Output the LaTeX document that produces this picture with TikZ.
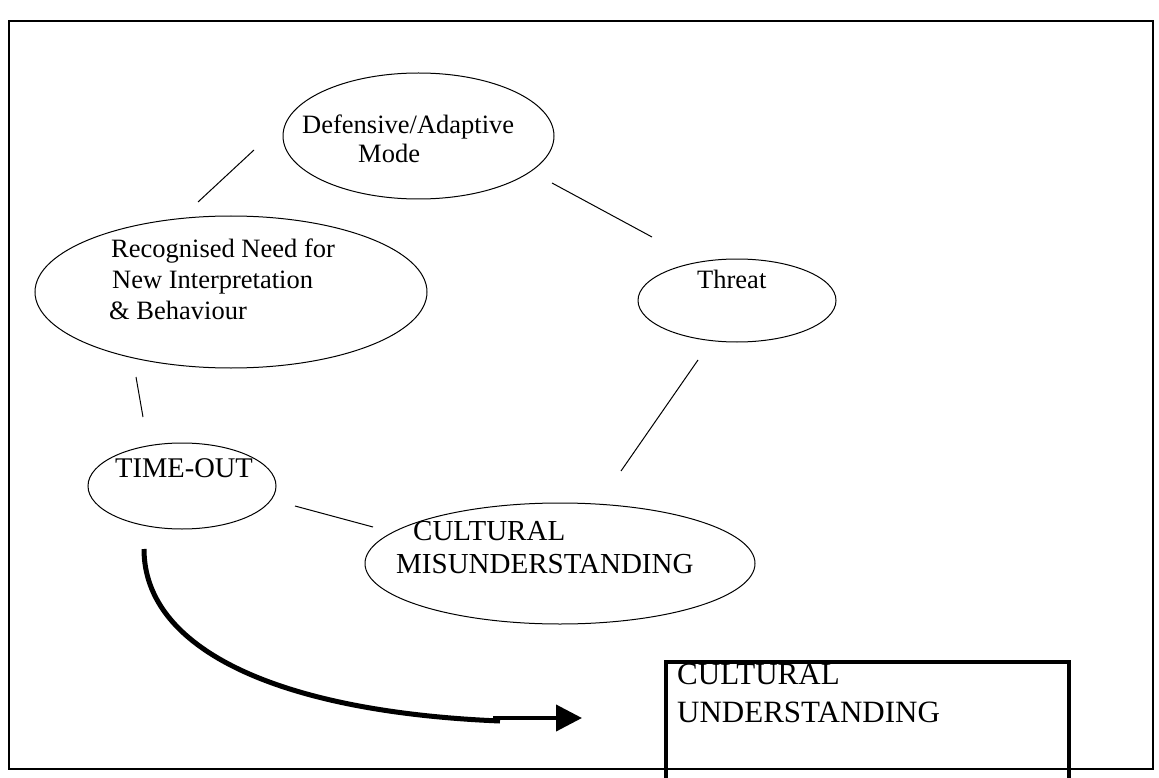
\documentclass[tikz,border=0pt]{standalone}
\usepackage{fontspec}
\setmainfont{Liberation Serif}
\usetikzlibrary{arrows.meta,shapes.geometric}
\begin{document}
\begin{tikzpicture}[x=1pt,y=-1pt,
  oval/.style={draw, ellipse, line width=1pt, inner sep=0pt},
  txt/.style={inner sep=0pt, anchor=base west},
  link/.style={line width=1pt},
  fa/.style={font=\fontsize{26.5}{31}\selectfont},
  fb/.style={font=\fontsize{28.5}{33}\selectfont},
  fc/.style={font=\fontsize{29}{34}\selectfont},
  fd/.style={font=\fontsize{31}{37}\selectfont},
]
\useasboundingbox (0,0) rectangle (1159,778);
\clip (0,0) rectangle (1159,778);
% outer frame
\draw[line width=2pt] (9,21) rectangle (1153,769);

% ellipses
\node[oval, minimum width=271pt, minimum height=126pt] (def) at (418.5,136) {};
\node[oval, minimum width=392pt, minimum height=152pt] (rec) at (231,292) {};
\node[oval, minimum width=198pt, minimum height=83pt] (thr) at (737,300.5) {};
\node[oval, minimum width=188pt, minimum height=86pt] (to) at (182,486) {};
\node[oval, minimum width=390pt, minimum height=121pt] (cm) at (560,563.5) {};

% box
\node[draw, line width=4pt, anchor=north west, minimum width=403pt, minimum height=150pt, inner sep=0pt] (cu) at (664,660) {};

% texts
\node[txt, fa] (defA) at (302,134) {Defensive/Adaptive};
\node[txt, fa] (defB) at (358,163) {Mode};
\node[txt, fa] (recA) at (111,257) {Recognised Need for};
\node[txt, fa] (recB) at (112,288) {New Interpretation};
\node[txt, fa] (recC) at (109,319) {\& Behaviour};
\node[txt, fa] (thrT) at (697,288) {Threat};
\node[txt, fb] (toT) at (115,477) {TIME-OUT};
\node[txt, fc] (cmA) at (413,540) {CULTURAL};
\node[txt, fc] (cmB) at (396,573) {MISUNDERSTANDING};
\node[txt, fd] (cuA) at (677,684) {CULTURAL};
\node[txt, fd] (cuB) at (677,722) {UNDERSTANDING};

% connector end points
\coordinate (rdA) at (198,202); \coordinate (rdB) at (254,150);
\coordinate (dtA) at (552,183); \coordinate (dtB) at (652,237);
\coordinate (tcA) at (698,360); \coordinate (tcB) at (621,471);
\coordinate (rtA) at (136,377); \coordinate (rtB) at (143,417);
\coordinate (ocA) at (295,506); \coordinate (ocB) at (373,527);
\draw[link] (rdA) -- (rdB);
\draw[link] (dtA) -- (dtB);
\draw[link] (tcA) -- (tcB);
\draw[link] (rtA) -- (rtB);
\draw[link] (ocA) -- (ocB);

% big arrow
\coordinate (cs) at (144,549);
\coordinate (ce) at (500,721);
\coordinate (ss) at (493,718);
\coordinate (tip) at (582,718);
\draw[line width=5pt] (cs) .. controls (144,650) and (280,712) .. (ce);
\draw[line width=4pt, -{Triangle[length=26pt,width=26pt]}] (ss) -- (tip);
\end{tikzpicture}
\end{document}
